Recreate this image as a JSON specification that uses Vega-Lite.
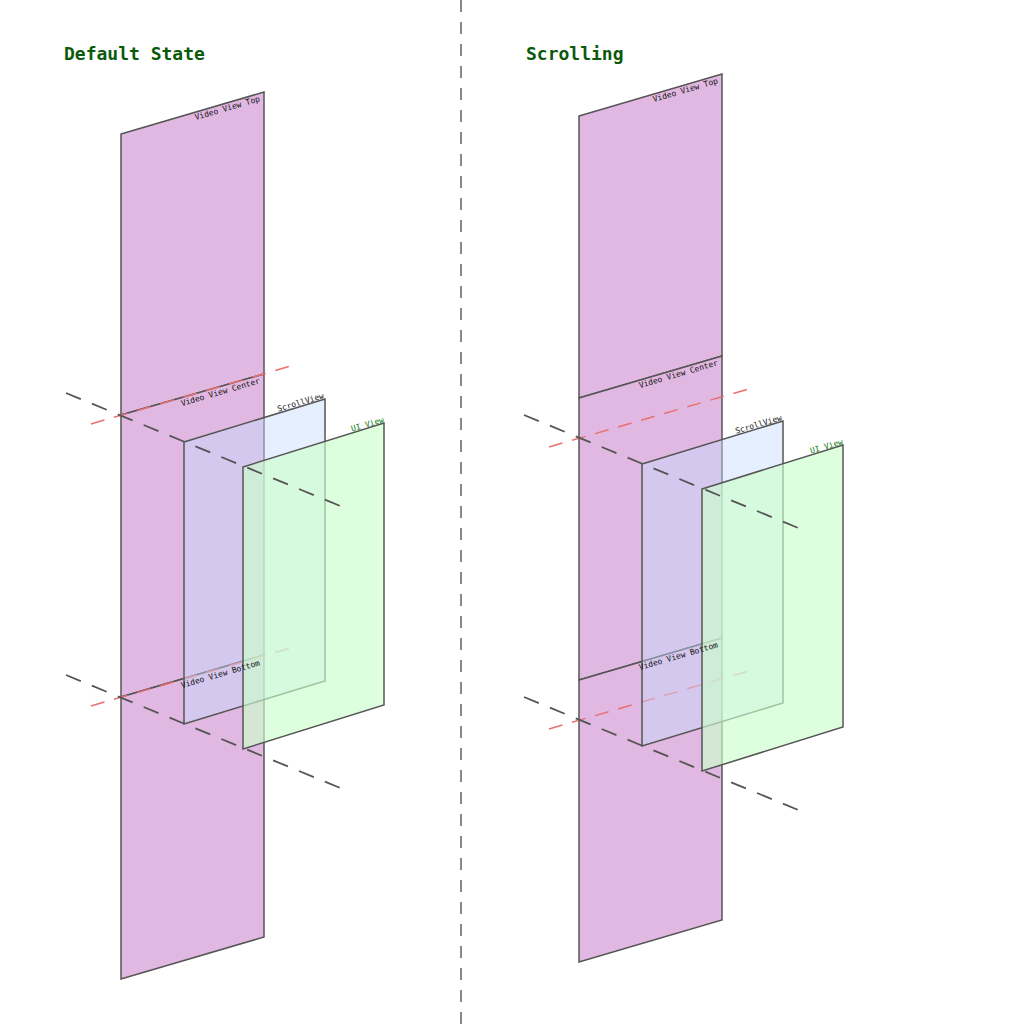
{
  "$schema": "https://vega.github.io/schema/vega-lite/v6.json",
  "width": 1024,
  "height": 1024,
  "autosize": "none",
  "padding": 0,
  "background": "white",
  "config": {"view": {"stroke": null}},
  "datasets": {
    "panes": [
      {"id": "L-top", "view": "video", "x": 121, "yt": 134, "yb": 415},
      {"id": "L-top", "view": "video", "x": 264, "yt": 92, "yb": 374},
      {"id": "L-mid", "view": "video", "x": 121, "yt": 415, "yb": 697},
      {"id": "L-mid", "view": "video", "x": 264, "yt": 374, "yb": 655},
      {"id": "L-bot", "view": "video", "x": 121, "yt": 697, "yb": 979},
      {"id": "L-bot", "view": "video", "x": 264, "yt": 655, "yb": 937},
      {"id": "L-scroll", "view": "scroll", "x": 184, "yt": 442, "yb": 724},
      {"id": "L-scroll", "view": "scroll", "x": 325, "yt": 399, "yb": 681},
      {"id": "L-ui", "view": "ui", "x": 243, "yt": 467, "yb": 749},
      {"id": "L-ui", "view": "ui", "x": 384, "yt": 423, "yb": 705},
      {"id": "R-top", "view": "video", "x": 579, "yt": 116, "yb": 398},
      {"id": "R-top", "view": "video", "x": 722, "yt": 74, "yb": 356},
      {"id": "R-mid", "view": "video", "x": 579, "yt": 398, "yb": 680},
      {"id": "R-mid", "view": "video", "x": 722, "yt": 356, "yb": 638},
      {"id": "R-bot", "view": "video", "x": 579, "yt": 680, "yb": 962},
      {"id": "R-bot", "view": "video", "x": 722, "yt": 638, "yb": 920},
      {"id": "R-scroll", "view": "scroll", "x": 642, "yt": 464, "yb": 746},
      {"id": "R-scroll", "view": "scroll", "x": 783, "yt": 421, "yb": 703},
      {"id": "R-ui", "view": "ui", "x": 702, "yt": 489, "yb": 771},
      {"id": "R-ui", "view": "ui", "x": 843, "yt": 445, "yb": 727}
    ],
    "guides": [
      {"id": "Lg1", "kind": "grey", "x": 66, "y": 393},
      {"id": "Lg1", "kind": "grey", "x": 350, "y": 510},
      {"id": "Lg2", "kind": "grey", "x": 66, "y": 675},
      {"id": "Lg2", "kind": "grey", "x": 350, "y": 792},
      {"id": "Lr1", "kind": "red", "x": 91, "y": 424},
      {"id": "Lr1", "kind": "red", "x": 294, "y": 365},
      {"id": "Lr2", "kind": "red", "x": 91, "y": 706},
      {"id": "Lr2", "kind": "red", "x": 294, "y": 647},
      {"id": "Rg1", "kind": "grey", "x": 524, "y": 415},
      {"id": "Rg1", "kind": "grey", "x": 808, "y": 532},
      {"id": "Rg2", "kind": "grey", "x": 524, "y": 697},
      {"id": "Rg2", "kind": "grey", "x": 808, "y": 814},
      {"id": "Rr1", "kind": "red", "x": 549, "y": 447},
      {"id": "Rr1", "kind": "red", "x": 752, "y": 388},
      {"id": "Rr2", "kind": "red", "x": 549, "y": 729},
      {"id": "Rr2", "kind": "red", "x": 752, "y": 670}
    ],
    "labels": [
      {"label": "Default State", "kind": "title", "x": 64, "y": 55},
      {"label": "Scrolling", "kind": "title", "x": 526, "y": 55},
      {"label": "Video View Top", "kind": "video", "x": 261, "y": 103},
      {"label": "Video View Center", "kind": "video", "x": 261, "y": 385},
      {"label": "Video View Bottom", "kind": "video", "x": 261, "y": 667},
      {"label": "ScrollView", "kind": "video", "x": 325, "y": 400},
      {"label": "UI View", "kind": "ui", "x": 385, "y": 424},
      {"label": "Video View Top", "kind": "video", "x": 719, "y": 85},
      {"label": "Video View Center", "kind": "video", "x": 719, "y": 367},
      {"label": "Video View Bottom", "kind": "video", "x": 719, "y": 649},
      {"label": "ScrollView", "kind": "video", "x": 783, "y": 422},
      {"label": "UI View", "kind": "ui", "x": 844, "y": 446}
    ],
    "divider": [{"x": 461}]
  },
  "encoding": {
    "x": {"field": "x", "type": "quantitative", "axis": null, "scale": {"domain": [0, 1024], "nice": false, "zero": false}}
  },
  "layer": [
    {
      "data": {"name": "divider"},
      "mark": {"type": "rule", "stroke": "#888888", "strokeWidth": 2, "strokeDash": [12, 10]},
      "encoding": {}
    },
    {
      "data": {"name": "panes"},
      "transform": [{"filter": "datum.view == 'video'"}],
      "mark": {"type": "area", "fill": "#e1b8e1", "stroke": "#555555", "strokeWidth": 1.5},
      "encoding": {
        "detail": {"field": "id"},
        "y": {"field": "yt", "type": "quantitative", "axis": null, "scale": {"domain": [0, 1024], "reverse": true, "nice": false, "zero": false}},
        "y2": {"field": "yb"}
      }
    },
    {
      "data": {"name": "guides"},
      "transform": [{"filter": "datum.kind == 'red'"}],
      "mark": {"type": "line", "stroke": "#e87070", "strokeWidth": 1.5, "strokeDash": [14, 10]},
      "encoding": {"detail": {"field": "id"}, "y": {"field": "y", "type": "quantitative"}}
    },
    {
      "data": {"name": "panes"},
      "transform": [{"filter": "datum.view == 'scroll'"}],
      "mark": {"type": "area", "fill": "#c8dcff", "fillOpacity": 0.45, "stroke": "#555555", "strokeWidth": 1.5},
      "encoding": {"detail": {"field": "id"}, "y": {"field": "yt", "type": "quantitative"}, "y2": {"field": "yb"}}
    },
    {
      "data": {"name": "panes"},
      "transform": [{"filter": "datum.view == 'ui'"}],
      "mark": {"type": "area", "fill": "#ccffcc", "fillOpacity": 0.65, "stroke": "#555555", "strokeWidth": 1.5},
      "encoding": {"detail": {"field": "id"}, "y": {"field": "yt", "type": "quantitative"}, "y2": {"field": "yb"}}
    },
    {
      "data": {"name": "guides"},
      "transform": [{"filter": "datum.kind == 'grey'"}],
      "mark": {"type": "line", "stroke": "#555555", "strokeWidth": 1.8, "strokeDash": [16, 12]},
      "encoding": {"detail": {"field": "id"}, "y": {"field": "y", "type": "quantitative"}}
    },
    {
      "data": {"name": "labels"},
      "transform": [{"filter": "datum.kind == 'title'"}],
      "mark": {"type": "text", "font": "DejaVu Sans Mono", "fontSize": 18, "fontWeight": "bold", "fill": "#0b5a0b", "align": "left", "baseline": "middle"},
      "encoding": {"y": {"field": "y", "type": "quantitative"}, "text": {"field": "label"}}
    },
    {
      "data": {"name": "labels"},
      "transform": [{"filter": "datum.kind == 'video'"}],
      "mark": {"type": "text", "font": "DejaVu Sans Mono", "fontSize": 8, "fill": "#111111", "align": "right", "baseline": "bottom", "angle": -16.4},
      "encoding": {"y": {"field": "y", "type": "quantitative"}, "text": {"field": "label"}}
    },
    {
      "data": {"name": "labels"},
      "transform": [{"filter": "datum.kind == 'ui'"}],
      "mark": {"type": "text", "font": "DejaVu Sans Mono", "fontSize": 8, "fill": "#0b7a0b", "align": "right", "baseline": "bottom", "angle": -16.4},
      "encoding": {"y": {"field": "y", "type": "quantitative"}, "text": {"field": "label"}}
    }
  ]
}
